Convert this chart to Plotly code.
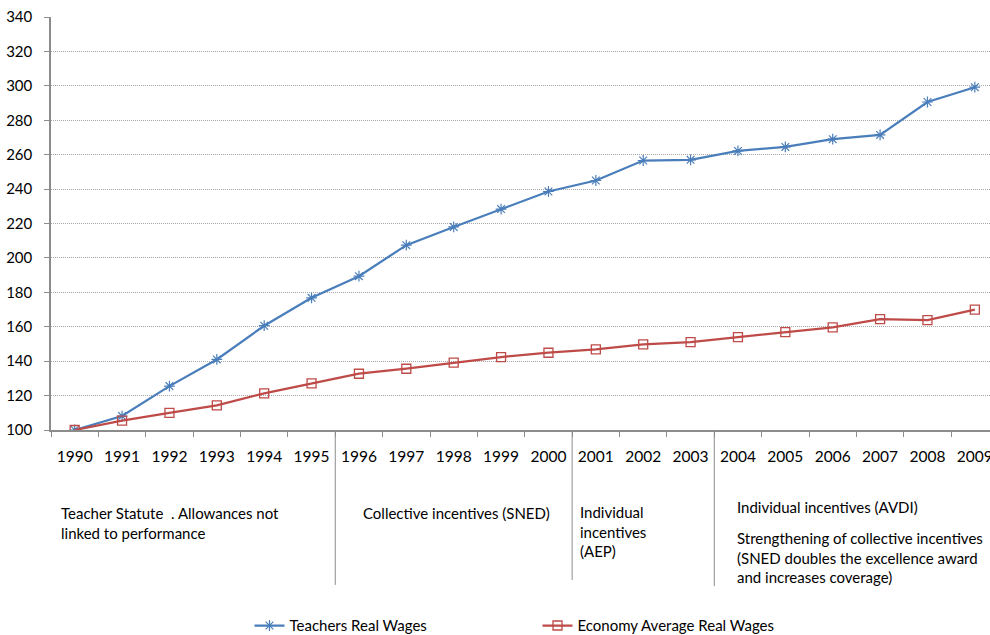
import plotly.graph_objects as go

years = [str(y) for y in range(1990, 2010)]
teachers = [100, 108.1, 125.5, 141.0, 160.6, 176.8, 189.4, 207.4, 218.0, 228.4,
            238.6, 245.0, 256.6, 257.0, 262.2, 264.5, 269.0, 271.5, 290.6, 299.2]
economy = [100, 105.4, 110.0, 114.3, 121.3, 127.1, 132.7, 135.6, 139.1, 142.4,
           144.9, 146.8, 149.7, 151.1, 154.0, 156.9, 159.6, 164.4, 163.9, 169.9]

# period separators (between categories) and their depth below the axis (paper units)
sep_positions = [5.5, 10.5, 13.5]
sep_depth = [-0.375, -0.363, -0.378]

period_texts = [
    "Teacher Statute  . Allowances not<br>linked to performance",
    "Collective incentives (SNED)",
    "Individual<br>incentives<br>(AEP)",
    "Individual incentives (AVDI)",
    "Strengthening of collective incentives<br>(SNED doubles the excellence award<br>and increases coverage)",
]
period_x = [-0.332, 6.05, 10.617, 13.93, 13.93]
period_y = [-0.1755, -0.1755, -0.173, -0.161, -0.2337]

BLUE = "#4A7EBB"
RED = "#BE4B48"
AXIS = "#8c8c8c"
FONT = "Lato"

fig = go.Figure()
fig.add_trace(go.Scatter(
    x=years, y=teachers, name="Teachers Real Wages", mode="lines+markers",
    line=dict(color=BLUE, width=2.25),
    marker=dict(symbol="asterisk-open", size=9, color=BLUE, line=dict(color=BLUE, width=1.2)),
))
fig.add_trace(go.Scatter(
    x=years, y=economy, name="Economy Average Real Wages", mode="lines+markers",
    line=dict(color=RED, width=2.25),
    marker=dict(symbol="square-open", size=9, color=RED, line=dict(color=RED, width=1.3)),
))

for xp, d in zip(sep_positions, sep_depth):
    fig.add_shape(type="line", xref="x", yref="paper", x0=xp, x1=xp, y0=0, y1=d,
                  line=dict(color=AXIS, width=1))

for t, xp, yp in zip(period_texts, period_x, period_y):
    fig.add_annotation(text=t, xref="x", yref="paper", x=xp, y=yp, xanchor="left",
                       yanchor="top", align="left", showarrow=False,
                       font=dict(family=FONT, size=15, color="#000000"))

fig.update_layout(
    width=990, height=635,
    margin=dict(l=51, r=0, t=17, b=205, autoexpand=False),
    paper_bgcolor="white", plot_bgcolor="white",
    font=dict(family=FONT, size=15, color="#000000"),
    showlegend=True,
    legend=dict(orientation="h", x=0.2114, y=-0.474, xanchor="left", yanchor="middle",
                entrywidth=243, entrywidthmode="pixels",
                font=dict(family=FONT, size=15, color="#000000"), bgcolor="rgba(0,0,0,0)"),
    xaxis=dict(type="category", range=[-0.5, 19.32], tickson="boundaries",
               ticks="outside", ticklen=5, tickcolor=AXIS, showline=True, linecolor=AXIS,
               linewidth=1.5, showgrid=False, zeroline=False, automargin=False,
               ticklabelstandoff=12, tickfont=dict(family=FONT, size=15.5)),
    yaxis=dict(range=[100, 340], dtick=20, tick0=100, ticks="outside", ticklen=5,
               tickcolor=AXIS, showline=True, linecolor=AXIS, linewidth=1.5,
               showgrid=True, gridcolor="#a6a6a6", griddash="1px,1px", gridwidth=1,
               zeroline=False, automargin=False, ticklabelstandoff=9,
               tickfont=dict(family=FONT, size=15)),
)

fig.write_html("out.html", config={"displayModeBar": False},
               post_script="document.body.style.margin='0';")
